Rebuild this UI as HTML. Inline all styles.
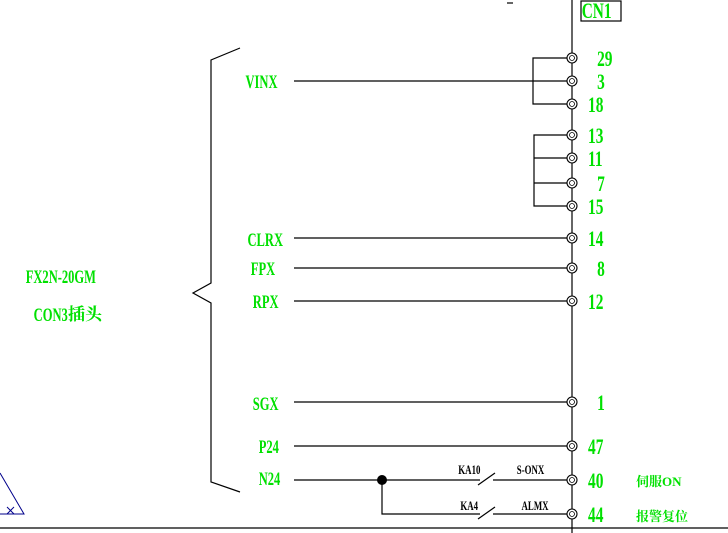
<!DOCTYPE html>
<html><head><meta charset="utf-8"><style>
html,body{margin:0;padding:0;background:#fff;}
svg{display:block}
text{font-family:"Liberation Serif","Noto Serif CJK SC","WenQuanYi Zen Hei",serif;fill:#00e000;font-weight:bold;}
</style></head><body>
<svg width="728" height="533" viewBox="0 0 728 533" xmlns="http://www.w3.org/2000/svg">
<g stroke="#000" stroke-width="1.2" fill="none">
<line x1="572" y1="0" x2="572" y2="533"/>
<rect x="581" y="1" width="40" height="20"/>
<line x1="507" y1="3" x2="513" y2="3"/>
<line x1="0" y1="528" x2="728" y2="528"/>
<polyline points="240,48 211,60 211,283 193,293 211,303 211,482 240,492"/>
<polyline points="572,58 533,58 533,104 572,104"/>
<polyline points="572,135 534,135 534,206 572,206"/>
<line x1="534" y1="158" x2="572" y2="158"/>
<line x1="534" y1="183" x2="572" y2="183"/>
<line x1="294" y1="81" x2="572" y2="81"/>
<line x1="294" y1="238" x2="572" y2="238"/>
<line x1="294" y1="268" x2="572" y2="268"/>
<line x1="294" y1="301" x2="572" y2="301"/>
<line x1="294" y1="402" x2="572" y2="402"/>
<line x1="294" y1="446" x2="572" y2="446"/>
<line x1="294" y1="480" x2="480" y2="480"/>
<line x1="493" y1="480" x2="572" y2="480"/>
<line x1="478" y1="485" x2="495" y2="473"/>
<polyline points="382,480 382,514 480,514"/>
<line x1="493" y1="514" x2="572" y2="514"/>
<line x1="478" y1="519" x2="495" y2="507"/>
</g>
<circle cx="382" cy="480" r="5" fill="#000"/>
<g stroke="#000" stroke-width="1.1" fill="#fff">
<circle cx="572" cy="58" r="5"/><circle cx="572" cy="81" r="5"/><circle cx="572" cy="104" r="5"/>
<circle cx="572" cy="135" r="5"/><circle cx="572" cy="158" r="5"/><circle cx="572" cy="183" r="5"/><circle cx="572" cy="206" r="5"/>
<circle cx="572" cy="238" r="5"/><circle cx="572" cy="268" r="5"/><circle cx="572" cy="301" r="5"/>
<circle cx="572" cy="402" r="5"/><circle cx="572" cy="446" r="5"/><circle cx="572" cy="480" r="5"/><circle cx="572" cy="514" r="5"/>
</g>
<g stroke="#000" stroke-width="0.8" fill="none">
<circle cx="572" cy="58" r="2.5"/><circle cx="572" cy="81" r="2.5"/><circle cx="572" cy="104" r="2.5"/>
<circle cx="572" cy="135" r="2.5"/><circle cx="572" cy="158" r="2.5"/><circle cx="572" cy="183" r="2.5"/><circle cx="572" cy="206" r="2.5"/>
<circle cx="572" cy="238" r="2.5"/><circle cx="572" cy="268" r="2.5"/><circle cx="572" cy="301" r="2.5"/>
<circle cx="572" cy="402" r="2.5"/><circle cx="572" cy="446" r="2.5"/><circle cx="572" cy="480" r="2.5"/><circle cx="572" cy="514" r="2.5"/>
</g>
<g stroke="#00008b" stroke-width="1" fill="none">
<polyline points="0,473 24,514 0,514"/>
<line x1="7" y1="507" x2="14" y2="514"/><line x1="14" y1="507" x2="7" y2="514"/>
</g>
<g font-size="22" font-weight="normal">
<g transform="scale(0.7,1)">
<text x="831" y="18">CN1</text>
<text x="853" y="66">29</text>
<text x="853" y="89">3</text>
<text x="840" y="112">18</text>
<text x="840" y="143">13</text>
<text x="840" y="166">11</text>
<text x="853" y="191">7</text>
<text x="840" y="214">15</text>
<text x="840" y="246">14</text>
<text x="853" y="276">8</text>
<text x="840" y="309">12</text>
<text x="853" y="410">1</text>
<text x="840" y="454">47</text>
<text x="840" y="488">40</text>
<text x="840" y="522">44</text>
</g></g>
<g font-size="19">
<g transform="scale(0.66,1)">
<text x="372" y="88">VINX</text>
<text x="375" y="246">CLRX</text>
<text x="380" y="275">FPX</text>
<text x="383" y="308">RPX</text>
<text x="383" y="410">SGX</text>
<text x="392" y="453">P24</text>
<text x="392" y="485">N24</text>
<text x="39" y="283">FX2N-20GM</text>
<text x="51" y="321">CON3</text>
</g></g>
<text x="68" y="320" font-size="17">插头</text>
<g font-size="13">
<g transform="scale(0.68,1)">
<text x="674" y="474" style="fill:#000">KA10</text>
<text x="760" y="474" style="fill:#000">S-ONX</text>
<text x="677" y="510" style="fill:#000">KA4</text>
<text x="767" y="510" style="fill:#000">ALMX</text>
</g></g>
<g font-size="13">
<text x="636" y="486">伺服ON</text>
<text x="636" y="521">报警复位</text>
</g>
</svg>
</body></html>
